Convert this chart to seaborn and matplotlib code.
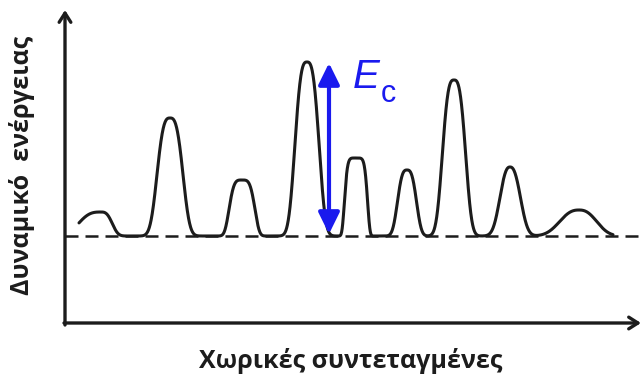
import numpy as np
import pandas as pd
import matplotlib
matplotlib.use("Agg")
import matplotlib.pyplot as plt
import seaborn as sns

# ---- data ----
# spatial coordinate of each barrier peak, its height above the baseline energy
peak_x = [101, 170, 242, 307, 356, 407, 454, 510, 579]
peak_h = [24, 118, 56, 174, 78, 66, 156, 69, 26]
width_left = [26, 15, 14, 14, 12, 11, 13.5, 12.5, 24]
width_right = [13, 15, 14, 14, 12, 11, 13.5, 13, 22]
shape_p = [3, 3, 4, 3, 6, 3, 3, 2.5, 2.5]
x_start, x_end = 79, 613

x_label = "Χωρικές συντεταγμένες"
y_label = "Δυναμικό  ενέργειας"
ec_main, ec_sub = "E", "c"
ec_from, ec_to, ec_x = 2, 173, 329

# ---- build landscape ----
xs = np.linspace(x_start, x_end, 3000)
ys = np.zeros_like(xs)
for c, h, wl, wr, p in zip(peak_x, peak_h, width_left, width_right, shape_p):
    w = np.where(xs < c, wl, wr)
    ys += h * np.exp(-np.abs((xs - c) / w) ** p)
df = pd.DataFrame({"x": xs, "E": ys})

sns.set_theme(style="white")
fig = plt.figure(figsize=(6.43, 3.83), dpi=100)
ax = fig.add_axes([0, 0, 1, 1])
ax.set_xlim(0, 643)
ax.set_ylim(236 - 383, 236)
ax.axis("off")

ink = "#1c1c1c"
blue = "#1a1aee"

# dashed baseline
ax.plot([65, 638], [0, 0], color=ink, lw=1.8, linestyle=(0, (5.2, 2.8)))
# energy curve
sns.lineplot(data=df, x="x", y="E", ax=ax, color=ink, lw=2.2,
             estimator=None, sort=False)

# axes with arrows
arrow_kw = dict(arrowstyle="->,head_length=0.55,head_width=0.35", lw=2.4,
                color=ink, shrinkA=0, shrinkB=0)
ax.annotate("", xy=(65, 226), xytext=(65, -89), arrowprops=arrow_kw,
            annotation_clip=False)
ax.annotate("", xy=(641, -87), xytext=(64, -87), arrowprops=arrow_kw,
            annotation_clip=False)

# E_c arrow
ax.annotate("", xy=(ec_x, ec_to), xytext=(ec_x, ec_from),
            arrowprops=dict(arrowstyle="<|-|>,head_length=0.65,head_width=0.32",
                            lw=3, color=blue, shrinkA=0, shrinkB=0,
                            mutation_scale=20))
ax.text(353, 148, ec_main, color=blue, fontsize=29, style="italic",
        family="Liberation Sans", ha="left", va="baseline")
ax.text(381, 134, ec_sub, color=blue, fontsize=22,
        family="Liberation Sans", ha="left", va="baseline")

# labels
ax.text(351, -125, x_label, fontsize=18, fontweight="bold",
        family="Open Sans", ha="center", va="center", color=ink)
ax.text(22, 71, y_label, fontsize=18, fontweight="bold", rotation=90,
        family="Open Sans", ha="center", va="center", color=ink)

fig.savefig("out.png", dpi=100)
